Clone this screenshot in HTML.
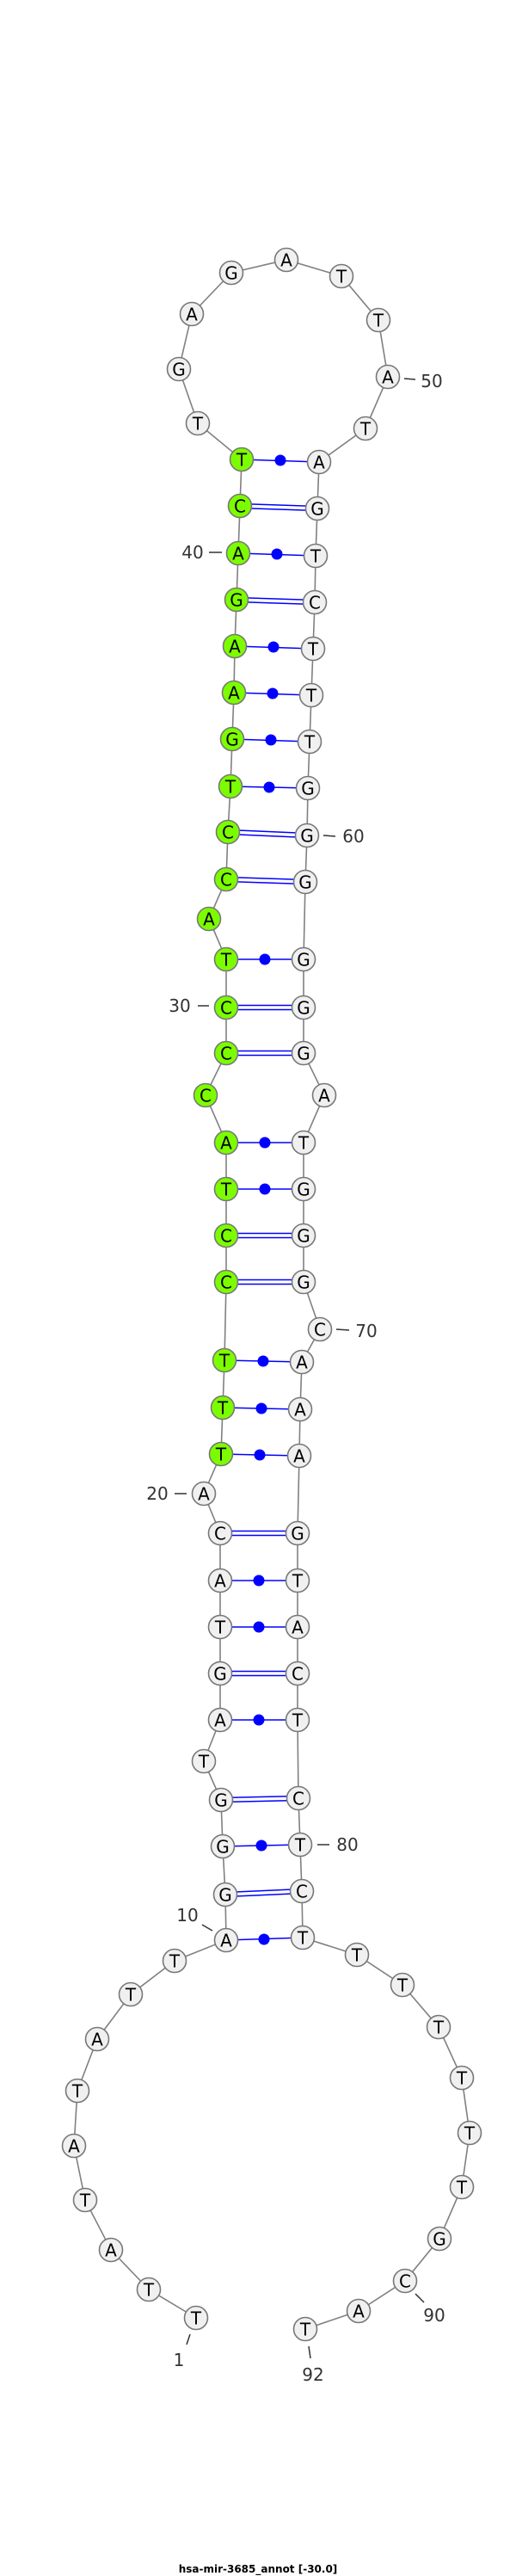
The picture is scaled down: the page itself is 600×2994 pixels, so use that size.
<!DOCTYPE html>
<html><head><meta charset="utf-8"><style>
html,body{margin:0;padding:0;background:#fff;}
svg{display:block;}
.n circle{stroke:#777;stroke-width:1.6;}
.w{fill:#f0f0f0;}
.g{fill:#7cfc00;}
text{font-family:"DejaVu Sans","Liberation Sans",sans-serif;}
.n text{font-size:20px;text-anchor:middle;fill:#000;transform:translateY(1px);}
.lb{font-size:20px;fill:#333;}
.tk{stroke:#333;stroke-width:1.5;}
.p{stroke:#0000ff;stroke-width:1.6;}
</style></head><body>
<svg width="600" height="2994" viewBox="0 0 600 2994" xmlns="http://www.w3.org/2000/svg">
<polyline fill="none" stroke="#808080" stroke-width="1.6" points="228,2694 173,2661 129,2615 99,2557 86,2494 90,2430 113,2370 152,2318 203,2279 263,2255 262,2202 259,2146 257,2092 237,2047 256,1999 256,1945 256,1891 256,1837 256,1782 237,1736 257,1690 259,1636 261,1581 263,1490 263,1436 263,1382 263,1328 239,1273 263,1224 263,1171 263,1115 243,1068 263,1022 265,967 268,914 270,859 272,805 273,751 275,697 277,643 279,588 281,534 230,492 208,429 223,365 269,317 333,302 397,321 440,372 451,438 425,498 371,537 369,591 367,646 366,700 364,754 362,808 360,862 358,916 357,971 355,1025 353,1115 353,1171 353,1224 377,1273 353,1328 353,1382 353,1436 353,1490 372,1545 351,1583 349,1638 348,1692 346,1782 346,1837 346,1891 346,1945 346,1999 347,2090 349,2144 351,2198 352,2252 415,2272 468,2307 510,2356 537,2415 546,2479 537,2542 511,2602 471,2651 417,2686 355,2707"/>
<g class="p" fill="#0000ff">
<line x1="263" y1="2255" x2="352" y2="2252"/><circle cx="307" cy="2254" r="6.5" stroke="none"/>
<line x1="259" y1="2146" x2="349" y2="2144"/><circle cx="304" cy="2145" r="6.5" stroke="none"/>
<line x1="256" y1="1999" x2="346" y2="1999"/><circle cx="301" cy="1999" r="6.5" stroke="none"/>
<line x1="256" y1="1891" x2="346" y2="1891"/><circle cx="301" cy="1891" r="6.5" stroke="none"/>
<line x1="256" y1="1837" x2="346" y2="1837"/><circle cx="301" cy="1837" r="6.5" stroke="none"/>
<line x1="257" y1="1690" x2="348" y2="1692"/><circle cx="302" cy="1691" r="6.5" stroke="none"/>
<line x1="259" y1="1636" x2="349" y2="1638"/><circle cx="304" cy="1637" r="6.5" stroke="none"/>
<line x1="261" y1="1581" x2="351" y2="1583"/><circle cx="306" cy="1582" r="6.5" stroke="none"/>
<line x1="263" y1="1382" x2="353" y2="1382"/><circle cx="308" cy="1382" r="6.5" stroke="none"/>
<line x1="263" y1="1328" x2="353" y2="1328"/><circle cx="308" cy="1328" r="6.5" stroke="none"/>
<line x1="263" y1="1115" x2="353" y2="1115"/><circle cx="308" cy="1115" r="6.5" stroke="none"/>
<line x1="268" y1="914" x2="358" y2="916"/><circle cx="313" cy="915" r="6.5" stroke="none"/>
<line x1="270" y1="859" x2="360" y2="862"/><circle cx="315" cy="860" r="6.5" stroke="none"/>
<line x1="272" y1="805" x2="362" y2="808"/><circle cx="317" cy="806" r="6.5" stroke="none"/>
<line x1="273" y1="751" x2="364" y2="754"/><circle cx="318" cy="752" r="6.5" stroke="none"/>
<line x1="277" y1="643" x2="367" y2="646"/><circle cx="322" cy="644" r="6.5" stroke="none"/>
<line x1="281" y1="534" x2="371" y2="537"/><circle cx="326" cy="535" r="6.5" stroke="none"/>
</g>
<g class="p" fill="none">
<line x1="262" y1="2199.5" x2="351" y2="2195.5"/><line x1="262" y1="2204.5" x2="351" y2="2200.5"/>
<line x1="257" y1="2089.5" x2="347" y2="2087.5"/><line x1="257" y1="2094.5" x2="347" y2="2092.5"/>
<line x1="256" y1="1942.5" x2="346" y2="1942.5"/><line x1="256" y1="1947.5" x2="346" y2="1947.5"/>
<line x1="256" y1="1779.5" x2="346" y2="1779.5"/><line x1="256" y1="1784.5" x2="346" y2="1784.5"/>
<line x1="263" y1="1487.5" x2="353" y2="1487.5"/><line x1="263" y1="1492.5" x2="353" y2="1492.5"/>
<line x1="263" y1="1433.5" x2="353" y2="1433.5"/><line x1="263" y1="1438.5" x2="353" y2="1438.5"/>
<line x1="263" y1="1221.5" x2="353" y2="1221.5"/><line x1="263" y1="1226.5" x2="353" y2="1226.5"/>
<line x1="263" y1="1168.5" x2="353" y2="1168.5"/><line x1="263" y1="1173.5" x2="353" y2="1173.5"/>
<line x1="263" y1="1019.5" x2="355" y2="1022.5"/><line x1="263" y1="1024.5" x2="355" y2="1027.5"/>
<line x1="265" y1="964.5" x2="357" y2="968.5"/><line x1="265" y1="969.5" x2="357" y2="973.5"/>
<line x1="275" y1="694.5" x2="366" y2="697.5"/><line x1="275" y1="699.5" x2="366" y2="702.5"/>
<line x1="279" y1="585.5" x2="369" y2="588.5"/><line x1="279" y1="590.5" x2="369" y2="593.5"/>
</g>
<g class="n">
<circle class="w" cx="228" cy="2694" r="13.5"/><text x="228" y="2700.5">T</text>
<circle class="w" cx="173" cy="2661" r="13.5"/><text x="173" y="2667.5">T</text>
<circle class="w" cx="129" cy="2615" r="13.5"/><text x="129" y="2621.5">A</text>
<circle class="w" cx="99" cy="2557" r="13.5"/><text x="99" y="2563.5">T</text>
<circle class="w" cx="86" cy="2494" r="13.5"/><text x="86" y="2500.5">A</text>
<circle class="w" cx="90" cy="2430" r="13.5"/><text x="90" y="2436.5">T</text>
<circle class="w" cx="113" cy="2370" r="13.5"/><text x="113" y="2376.5">A</text>
<circle class="w" cx="152" cy="2318" r="13.5"/><text x="152" y="2324.5">T</text>
<circle class="w" cx="203" cy="2279" r="13.5"/><text x="203" y="2285.5">T</text>
<circle class="w" cx="263" cy="2255" r="13.5"/><text x="263" y="2261.5">A</text>
<circle class="w" cx="262" cy="2202" r="13.5"/><text x="262" y="2208.5">G</text>
<circle class="w" cx="259" cy="2146" r="13.5"/><text x="259" y="2152.5">G</text>
<circle class="w" cx="257" cy="2092" r="13.5"/><text x="257" y="2098.5">G</text>
<circle class="w" cx="237" cy="2047" r="13.5"/><text x="237" y="2053.5">T</text>
<circle class="w" cx="256" cy="1999" r="13.5"/><text x="256" y="2005.5">A</text>
<circle class="w" cx="256" cy="1945" r="13.5"/><text x="256" y="1951.5">G</text>
<circle class="w" cx="256" cy="1891" r="13.5"/><text x="256" y="1897.5">T</text>
<circle class="w" cx="256" cy="1837" r="13.5"/><text x="256" y="1843.5">A</text>
<circle class="w" cx="256" cy="1782" r="13.5"/><text x="256" y="1788.5">C</text>
<circle class="w" cx="237" cy="1736" r="13.5"/><text x="237" y="1742.5">A</text>
<circle class="g" cx="257" cy="1690" r="13.5"/><text x="257" y="1696.5">T</text>
<circle class="g" cx="259" cy="1636" r="13.5"/><text x="259" y="1642.5">T</text>
<circle class="g" cx="261" cy="1581" r="13.5"/><text x="261" y="1587.5">T</text>
<circle class="g" cx="263" cy="1490" r="13.5"/><text x="263" y="1496.5">C</text>
<circle class="g" cx="263" cy="1436" r="13.5"/><text x="263" y="1442.5">C</text>
<circle class="g" cx="263" cy="1382" r="13.5"/><text x="263" y="1388.5">T</text>
<circle class="g" cx="263" cy="1328" r="13.5"/><text x="263" y="1334.5">A</text>
<circle class="g" cx="239" cy="1273" r="13.5"/><text x="239" y="1279.5">C</text>
<circle class="g" cx="263" cy="1224" r="13.5"/><text x="263" y="1230.5">C</text>
<circle class="g" cx="263" cy="1171" r="13.5"/><text x="263" y="1177.5">C</text>
<circle class="g" cx="263" cy="1115" r="13.5"/><text x="263" y="1121.5">T</text>
<circle class="g" cx="243" cy="1068" r="13.5"/><text x="243" y="1074.5">A</text>
<circle class="g" cx="263" cy="1022" r="13.5"/><text x="263" y="1028.5">C</text>
<circle class="g" cx="265" cy="967" r="13.5"/><text x="265" y="973.5">C</text>
<circle class="g" cx="268" cy="914" r="13.5"/><text x="268" y="920.5">T</text>
<circle class="g" cx="270" cy="859" r="13.5"/><text x="270" y="865.5">G</text>
<circle class="g" cx="272" cy="805" r="13.5"/><text x="272" y="811.5">A</text>
<circle class="g" cx="273" cy="751" r="13.5"/><text x="273" y="757.5">A</text>
<circle class="g" cx="275" cy="697" r="13.5"/><text x="275" y="703.5">G</text>
<circle class="g" cx="277" cy="643" r="13.5"/><text x="277" y="649.5">A</text>
<circle class="g" cx="279" cy="588" r="13.5"/><text x="279" y="594.5">C</text>
<circle class="g" cx="281" cy="534" r="13.5"/><text x="281" y="540.5">T</text>
<circle class="w" cx="230" cy="492" r="13.5"/><text x="230" y="498.5">T</text>
<circle class="w" cx="208" cy="429" r="13.5"/><text x="208" y="435.5">G</text>
<circle class="w" cx="223" cy="365" r="13.5"/><text x="223" y="371.5">A</text>
<circle class="w" cx="269" cy="317" r="13.5"/><text x="269" y="323.5">G</text>
<circle class="w" cx="333" cy="302" r="13.5"/><text x="333" y="308.5">A</text>
<circle class="w" cx="397" cy="321" r="13.5"/><text x="397" y="327.5">T</text>
<circle class="w" cx="440" cy="372" r="13.5"/><text x="440" y="378.5">T</text>
<circle class="w" cx="451" cy="438" r="13.5"/><text x="451" y="444.5">A</text>
<circle class="w" cx="425" cy="498" r="13.5"/><text x="425" y="504.5">T</text>
<circle class="w" cx="371" cy="537" r="13.5"/><text x="371" y="543.5">A</text>
<circle class="w" cx="369" cy="591" r="13.5"/><text x="369" y="597.5">G</text>
<circle class="w" cx="367" cy="646" r="13.5"/><text x="367" y="652.5">T</text>
<circle class="w" cx="366" cy="700" r="13.5"/><text x="366" y="706.5">C</text>
<circle class="w" cx="364" cy="754" r="13.5"/><text x="364" y="760.5">T</text>
<circle class="w" cx="362" cy="808" r="13.5"/><text x="362" y="814.5">T</text>
<circle class="w" cx="360" cy="862" r="13.5"/><text x="360" y="868.5">T</text>
<circle class="w" cx="358" cy="916" r="13.5"/><text x="358" y="922.5">G</text>
<circle class="w" cx="357" cy="971" r="13.5"/><text x="357" y="977.5">G</text>
<circle class="w" cx="355" cy="1025" r="13.5"/><text x="355" y="1031.5">G</text>
<circle class="w" cx="353" cy="1115" r="13.5"/><text x="353" y="1121.5">G</text>
<circle class="w" cx="353" cy="1171" r="13.5"/><text x="353" y="1177.5">G</text>
<circle class="w" cx="353" cy="1224" r="13.5"/><text x="353" y="1230.5">G</text>
<circle class="w" cx="377" cy="1273" r="13.5"/><text x="377" y="1279.5">A</text>
<circle class="w" cx="353" cy="1328" r="13.5"/><text x="353" y="1334.5">T</text>
<circle class="w" cx="353" cy="1382" r="13.5"/><text x="353" y="1388.5">G</text>
<circle class="w" cx="353" cy="1436" r="13.5"/><text x="353" y="1442.5">G</text>
<circle class="w" cx="353" cy="1490" r="13.5"/><text x="353" y="1496.5">G</text>
<circle class="w" cx="372" cy="1545" r="13.5"/><text x="372" y="1551.5">C</text>
<circle class="w" cx="351" cy="1583" r="13.5"/><text x="351" y="1589.5">A</text>
<circle class="w" cx="349" cy="1638" r="13.5"/><text x="349" y="1644.5">A</text>
<circle class="w" cx="348" cy="1692" r="13.5"/><text x="348" y="1698.5">A</text>
<circle class="w" cx="346" cy="1782" r="13.5"/><text x="346" y="1788.5">G</text>
<circle class="w" cx="346" cy="1837" r="13.5"/><text x="346" y="1843.5">T</text>
<circle class="w" cx="346" cy="1891" r="13.5"/><text x="346" y="1897.5">A</text>
<circle class="w" cx="346" cy="1945" r="13.5"/><text x="346" y="1951.5">C</text>
<circle class="w" cx="346" cy="1999" r="13.5"/><text x="346" y="2005.5">T</text>
<circle class="w" cx="347" cy="2090" r="13.5"/><text x="347" y="2096.5">C</text>
<circle class="w" cx="349" cy="2144" r="13.5"/><text x="349" y="2150.5">T</text>
<circle class="w" cx="351" cy="2198" r="13.5"/><text x="351" y="2204.5">C</text>
<circle class="w" cx="352" cy="2252" r="13.5"/><text x="352" y="2258.5">T</text>
<circle class="w" cx="415" cy="2272" r="13.5"/><text x="415" y="2278.5">T</text>
<circle class="w" cx="468" cy="2307" r="13.5"/><text x="468" y="2313.5">T</text>
<circle class="w" cx="510" cy="2356" r="13.5"/><text x="510" y="2362.5">T</text>
<circle class="w" cx="537" cy="2415" r="13.5"/><text x="537" y="2421.5">T</text>
<circle class="w" cx="546" cy="2479" r="13.5"/><text x="546" y="2485.5">T</text>
<circle class="w" cx="537" cy="2542" r="13.5"/><text x="537" y="2548.5">T</text>
<circle class="w" cx="511" cy="2602" r="13.5"/><text x="511" y="2608.5">G</text>
<circle class="w" cx="471" cy="2651" r="13.5"/><text x="471" y="2657.5">C</text>
<circle class="w" cx="417" cy="2686" r="13.5"/><text x="417" y="2692.5">A</text>
<circle class="w" cx="355" cy="2707" r="13.5"/><text x="355" y="2713.5">T</text>
</g>
<g>
<line class="tk" x1="221" y1="2713" x2="217" y2="2725"/><text class="lb" x="208" y="2750" text-anchor="middle">1</text>
<line class="tk" x1="235" y1="2237" x2="247" y2="2244"/><text class="lb" x="218" y="2233" text-anchor="middle">10</text>
<line class="tk" x1="203" y1="1736" x2="217" y2="1736"/><text class="lb" x="183" y="1743" text-anchor="middle">20</text>
<line class="tk" x1="230" y1="1169" x2="243" y2="1169"/><text class="lb" x="209" y="1176" text-anchor="middle">30</text>
<line class="tk" x1="243" y1="642" x2="258" y2="642"/><text class="lb" x="224" y="649" text-anchor="middle">40</text>
<line class="tk" x1="470" y1="440" x2="483" y2="441"/><text class="lb" x="502" y="450" text-anchor="middle">50</text>
<line class="tk" x1="376" y1="971" x2="390" y2="972"/><text class="lb" x="411" y="979" text-anchor="middle">60</text>
<line class="tk" x1="391" y1="1545" x2="406" y2="1546"/><text class="lb" x="426" y="1554" text-anchor="middle">70</text>
<line class="tk" x1="369" y1="2144" x2="383" y2="2144"/><text class="lb" x="404" y="2151" text-anchor="middle">80</text>
<line class="tk" x1="483" y1="2666" x2="493" y2="2676"/><text class="lb" x="505" y="2698" text-anchor="middle">90</text>
<line class="tk" x1="359" y1="2727" x2="361" y2="2741"/><text class="lb" x="364" y="2767" text-anchor="middle">92</text>
<text x="300" y="2990" text-anchor="middle" font-family="'DejaVu Sans','Liberation Sans',sans-serif" font-size="12" font-weight="bold" fill="#000">hsa-mir-3685_annot [-30.0]</text>
</g>
</svg>
</body></html>
